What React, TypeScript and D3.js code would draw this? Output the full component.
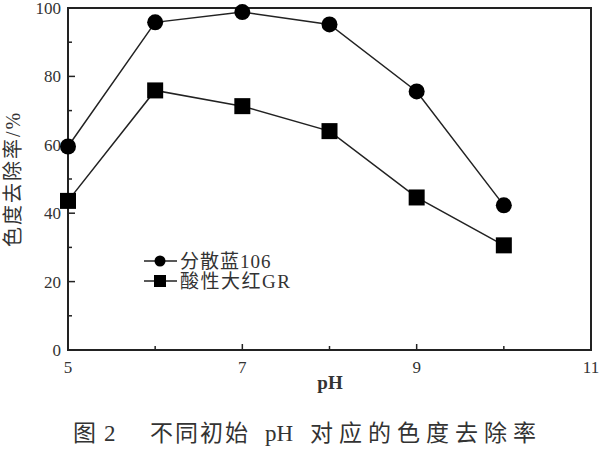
import React from "react";
import * as d3 from "d3";

const phValues = [5, 6, 7, 8, 9, 10];
const disperseBlue = [59.5, 95.8, 98.8, 95.2, 75.6, 42.3];
const acidRed = [43.6, 75.9, 71.3, 64.0, 44.6, 30.6];
const seriesNames = ["分散蓝106", "酸性大红GR"];
const xMajorTicks = [5, 7, 9, 11];
const xMinorTicks = [6, 8, 10];
const yMajorTicks = [0, 20, 40, 60, 80, 100];
const yMinorTicks = [10, 30, 50, 70, 90];

const W = 600, H = 450;
const left = 68, right = 591, top = 8, bottom = 350;
const FONT = "'Liberation Serif', 'Noto Sans CJK SC', serif";

export default function App() {
  const x = d3.scaleLinear().domain([5, 11]).range([left, right]);
  const y = d3.scaleLinear().domain([0, 100]).range([bottom, top]);
  const line = d3.line<number>().x((_, i) => x(phValues[i])).y((d) => y(d));

  return (
    <svg width={W} height={H} style={{ position: "absolute", left: 0, top: 0, background: "#fff" }} fontFamily={FONT}>
      <rect x={0} y={0} width={W} height={H} fill="#fff" />
      {/* frame */}
      <rect x={left} y={top} width={right - left} height={bottom - top} fill="none" stroke="#222" strokeWidth={2} />
      {/* y ticks */}
      {yMajorTicks.map((t) => (
        <g key={"ym" + t}>
          <line x1={left} x2={left + 7} y1={y(t)} y2={y(t)} stroke="#222" strokeWidth={1.5} />
          <text x={left - 7} y={y(t)} dy="0.35em" textAnchor="end" fontSize={17} fill="#333">{t}</text>
        </g>
      ))}
      {yMinorTicks.map((t) => (
        <line key={"yn" + t} x1={left} x2={left + 4} y1={y(t)} y2={y(t)} stroke="#222" strokeWidth={1.5} />
      ))}
      {/* x ticks */}
      {xMajorTicks.map((t) => (
        <g key={"xm" + t}>
          <line x1={x(t)} x2={x(t)} y1={bottom} y2={bottom - 6} stroke="#222" strokeWidth={1.5} />
          <text x={x(t)} y={bottom + 23} textAnchor="middle" fontSize={17} fill="#333">{t}</text>
        </g>
      ))}
      {xMinorTicks.map((t) => (
        <line key={"xn" + t} x1={x(t)} x2={x(t)} y1={bottom} y2={bottom - 4} stroke="#222" strokeWidth={1.5} />
      ))}
      {/* axis titles */}
      <text x={330} y={389} textAnchor="middle" fontSize={19} fontWeight="bold" fill="#333">pH</text>
      <text transform={`translate(20, 179) rotate(-90)`} textAnchor="middle" fontSize={20} fill="#333"
        letterSpacing={2}>色度去除率/%</text>
      {/* series lines */}
      <path d={line(disperseBlue) || ""} fill="none" stroke="#222" strokeWidth={1.5} />
      <path d={line(acidRed) || ""} fill="none" stroke="#222" strokeWidth={1.5} />
      {disperseBlue.map((v, i) => (
        <circle key={"c" + i} cx={x(phValues[i])} cy={y(v)} r={8} fill="#000" />
      ))}
      {acidRed.map((v, i) => (
        <rect key={"s" + i} x={x(phValues[i]) - 8} y={y(v) - 8} width={16} height={16} fill="#000" />
      ))}
      {/* legend */}
      <g>
        <line x1={144} x2={177} y1={261} y2={261} stroke="#222" strokeWidth={1.5} />
        <circle cx={160} cy={261} r={5.5} fill="#000" />
        <text x={180} y={261} dy="0.35em" fontSize={19} fill="#333" letterSpacing={1}>{seriesNames[0]}</text>
        <line x1={144} x2={177} y1={281} y2={281} stroke="#222" strokeWidth={1.5} />
        <rect x={154} y={275} width={12} height={12} fill="#000" />
        <text x={180} y={281} dy="0.35em" fontSize={19} fill="#333" letterSpacing={1.5}>{seriesNames[1]}</text>
      </g>
      {/* caption */}
      <text y={441} fontSize={23} fill="#333">
        <tspan x={73}>图</tspan>
        <tspan x={104}>2</tspan>
        <tspan x={150} letterSpacing={2}>不同初始</tspan>
        <tspan x={265}>pH</tspan>
        <tspan x={310} letterSpacing={6}>对应的色度去除率</tspan>
      </text>
    </svg>
  );
}
